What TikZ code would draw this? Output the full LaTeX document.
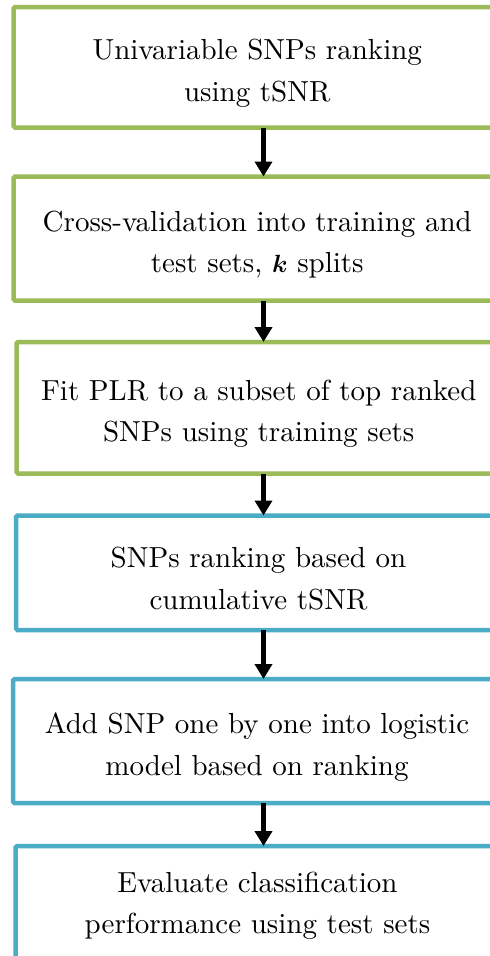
\documentclass[tikz,border=0pt]{standalone}
\usepackage{amsmath,bm}
\usepackage{fontspec}
\setmainfont{lmroman10-regular}[Extension=.otf, BoldFont=lmroman10-bold, ItalicFont=lmroman10-italic]
\usetikzlibrary{arrows.meta}
\definecolor{boxgreen}{RGB}{155,187,89}
\definecolor{boxblue}{RGB}{75,172,198}
\tikzset{
  flowbox/.style={draw, line width=4.5pt, rounded corners=1.5pt, fill=white, inner sep=0pt, outer sep=0pt},
  greenbox/.style={flowbox, draw=boxgreen},
  bluebox/.style={flowbox, draw=boxblue},
  boxtext/.style={align=center, inner sep=0pt, font=\fontsize{29}{41.5}\selectfont},
  flowarrow/.style={line width=5.5pt, -{Triangle[length=15pt,width=17pt]}}
}
\begin{document}
\begin{tikzpicture}[x=1pt,y=-1pt]
\useasboundingbox (0,0) rectangle (490,956);
\clip (0,0) rectangle (490,956);
\node[greenbox, minimum width=487.5pt, minimum height=120.5pt] (b1) at (257.25,67.25) {};
\node[greenbox, minimum width=487.5pt, minimum height=124pt] (b2) at (257.25,238.5) {};
\node[greenbox, minimum width=484.5pt, minimum height=131.5pt] (b3) at (258.75,407.75) {};
\node[bluebox, minimum width=485pt, minimum height=114.5pt] (b4) at (258.5,572.75) {};
\node[bluebox, minimum width=488pt, minimum height=124pt] (b5) at (257,741) {};
\node[bluebox, minimum width=485.5pt, minimum height=124pt] (b6) at (258.25,908) {};
\node[boxtext] (t1) at ([yshift=-6pt]b1.center) {Univariable SNPs ranking\\using tSNR};
\node[boxtext] (t2) at ([yshift=-6pt]b2.center) {Cross-validation into training and\\test sets, $\bm{k}$ splits};
\node[boxtext] (t3) at ([yshift=-6pt]b3.center) {Fit PLR to a subset of top ranked\\SNPs using training sets};
\node[boxtext] (t4) at ([yshift=-6pt]b4.center) {SNPs ranking based on\\cumulative tSNR};
\node[boxtext] (t5) at ([yshift=-6pt]b5.center) {Add SNP one by one into logistic\\model based on ranking};
\node[boxtext] (t6) at (257.5,906) {Evaluate classification\\performance using test sets};
\coordinate (ax) at (263.5,0);
\draw[flowarrow] (b1.south -| ax) -- (b2.north -| ax);
\draw[flowarrow] (b2.south -| ax) -- (b3.north -| ax);
\draw[flowarrow] (b3.south -| ax) -- (b4.north -| ax);
\draw[flowarrow] (b4.south -| ax) -- (b5.north -| ax);
\draw[flowarrow] (b5.south -| ax) -- (b6.north -| ax);
\end{tikzpicture}
\end{document}
